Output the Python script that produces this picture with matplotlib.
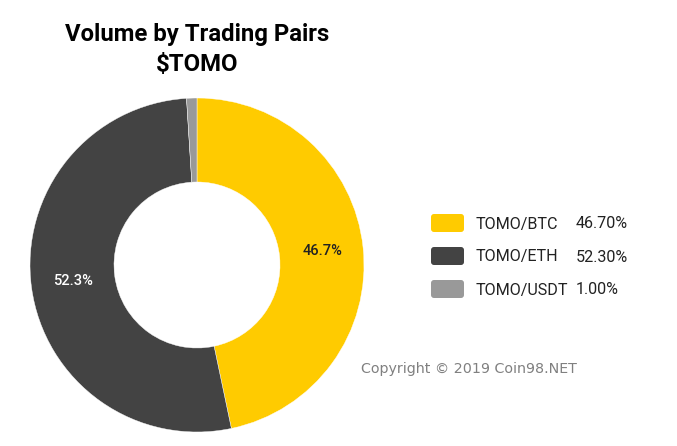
import matplotlib
matplotlib.use('Agg')
import matplotlib.pyplot as plt
from matplotlib.patches import FancyBboxPatch

plt.rcParams['font.family'] = ['Roboto', 'DejaVu Sans']

# Data
pairs = ['TOMO/BTC', 'TOMO/ETH', 'TOMO/USDT']
shares = [46.7, 52.3, 1.0]
legend_values = ['46.70%', '52.30%', '1.00%']
slice_labels = ['46.7%', '52.3%', '']
colors = ['#ffcb00', '#434343', '#999999']
label_colors = ['#222222', '#ffffff', '#ffffff']

W, H = 677, 446
fig = plt.figure(figsize=(W / 100, H / 100), dpi=100)
ax = fig.add_axes([0, 0, 1, 1])

# y axis is flipped below, so start at -90 and go counterclockwise to get clockwise from the top
wedges, texts = ax.pie(shares, colors=colors, startangle=-90, counterclock=True,
                       radius=167, center=(197, 265), frame=True,
                       wedgeprops=dict(width=84, linewidth=0.3, edgecolor='#ffffff'))
ax.set_xlim(0, W)
ax.set_ylim(H, 0)
ax.set_aspect('equal')
ax.axis('off')

ax.text(197, 35, 'Volume by Trading Pairs', ha='center', va='center', fontsize=17.2, fontweight='bold', color='black')
ax.text(197, 64, '$TOMO', ha='center', va='center', fontsize=17.2, fontweight='bold', color='black')

ax.text(323, 251, slice_labels[0], ha='center', va='center', fontsize=10.5, fontweight='medium', color=label_colors[0])
ax.text(73, 281, slice_labels[1], ha='center', va='center', fontsize=10.5, fontweight='medium', color=label_colors[1])

rows_y = [223, 256, 289]
for name, val, col, y in zip(pairs, legend_values, colors, rows_y):
    ax.add_patch(FancyBboxPatch((433, y - 7), 29, 14, boxstyle='round,pad=2,rounding_size=3',
                                facecolor=col, edgecolor='none'))
    ax.text(476, y + 1, name, va='center', fontsize=11.6, color='#222222')
    ax.text(576, y + 1, val, va='center', ha='left', fontsize=11.6, color='#222222')

ax.text(361, 369, 'Copyright © 2019 Coin98.NET', va='center', fontsize=10.3, color='#808080',
        family=['DejaVu Sans'])

fig.savefig('out.png', dpi=100)
